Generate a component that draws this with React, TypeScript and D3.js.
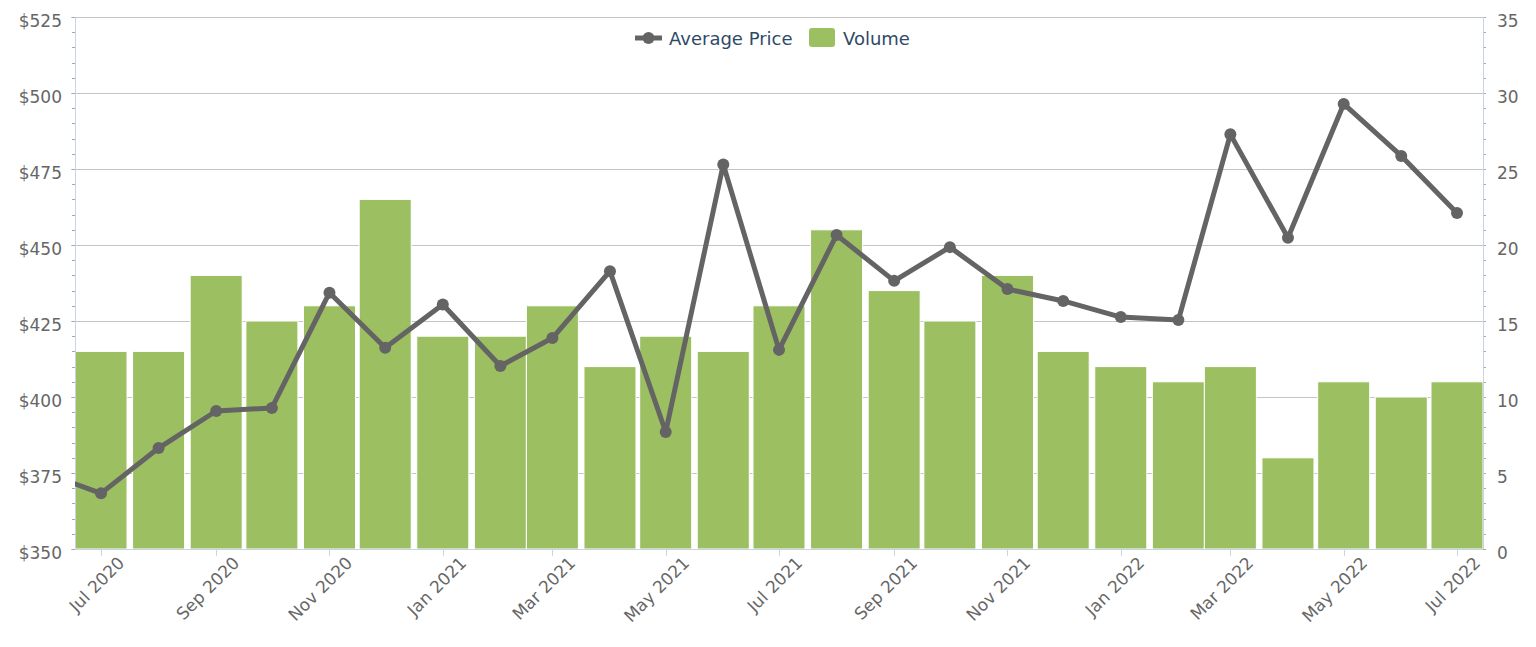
import React from "react";
import * as d3 from "d3";

// ---- data ----
const priceMonths = [
  "2020-06", "2020-07", "2020-08", "2020-09", "2020-10", "2020-11", "2020-12",
  "2021-01", "2021-02", "2021-03", "2021-04", "2021-05", "2021-06", "2021-07",
  "2021-08", "2021-09", "2021-10", "2021-11", "2021-12", "2022-01", "2022-02",
  "2022-03", "2022-04", "2022-05", "2022-06", "2022-07",
];
const priceValues = [
  375, 368.3, 383.2, 395.4, 396.4, 434.3, 416.2, 430.4, 410.2, 419.4, 441.4,
  388.5, 476.5, 415.5, 453.3, 438.2, 449.3, 435.5, 431.6, 426.3, 425.3, 486.4,
  452.4, 496.4, 479.3, 460.5,
];
const volumeMonths = priceMonths.slice(1);
const volumeValues = [
  13, 13, 18, 15, 16, 23, 14, 14, 16, 12, 14, 13, 16, 21, 17, 15, 18, 13, 12,
  11, 12, 6, 11, 10, 11,
];
const leftTicks = [350, 375, 400, 425, 450, 475, 500, 525];
const rightTicks = [0, 5, 10, 15, 20, 25, 30, 35];
const seriesNames = ["Average Price", "Volume"];

const W = 1536;
const H = 647;
const M = { left: 75, right: 1483, top: 17, bottom: 549 };
const FONT = "'DejaVu Sans', Verdana, sans-serif";
const LABEL = "#666666";
const GRID = "#c4c4c4";
const AXIS = "#c6d4e3";
const BAR = "#9cbf62";
const LINE = "#646464";

const parse = d3.utcParse("%Y-%m");

export default function App() {
  React.useEffect(() => {
    document.body.style.margin = "0";
  }, []);

  const x = d3
    .scaleUtc()
    .domain([new Date(Date.UTC(2020, 5, 17)), new Date(Date.UTC(2022, 6, 15))])
    .range([M.left, M.right]);
  const yL = d3.scaleLinear().domain([350, 525]).range([M.bottom, M.top]);
  const yR = d3.scaleLinear().domain([0, 35]).range([M.bottom, M.top]);

  const t0 = parse("2021-02")!;
  const t1 = parse("2021-03")!;
  const barW = x(t1) - x(t0);

  const line = d3
    .line<number>()
    .x((_, i) => x(parse(priceMonths[i])!))
    .y((d) => yL(d));

  const xTicks = d3.utcMonth
    .every(2)!
    .range(parse("2020-07")!, new Date(Date.UTC(2022, 6, 2)));
  const fmt = d3.utcFormat("%b %Y");

  const minorL = d3.range(350, 526, 5);
  const minorR = d3.range(0, 36, 1);
  const r5 = (v: number) => Math.round(v) + 0.5;

  return (
    <svg
      width={W}
      height={H}
      style={{ position: "absolute", left: 0, top: 0, display: "block" }}
      fontFamily={FONT}
    >
      <defs>
        <clipPath id="plot">
          <rect x={M.left} y={M.top - 10} width={M.right - M.left} height={M.bottom - M.top + 10} />
        </clipPath>
      </defs>
      <rect width={W} height={H} fill="#fff" />
      {/* gridlines */}
      {leftTicks.map((t) => (
        <line key={t} x1={M.left - 4} x2={M.right} y1={r5(yL(t))} y2={r5(yL(t))} stroke={GRID} strokeWidth={1} />
      ))}
      {/* minor ticks */}
      {minorL.map((t) => (
        <line key={"ml" + t} x1={M.left - 3} x2={M.left} y1={r5(yL(t))} y2={r5(yL(t))} stroke="#a8a8a8" strokeWidth={1} />
      ))}
      {minorR.map((t) => (
        <line key={"mr" + t} x1={M.right} x2={M.right + 3} y1={r5(yR(t))} y2={r5(yR(t))} stroke="#a8a8a8" strokeWidth={1} />
      ))}
      {/* bars */}
      <g clipPath="url(#plot)">
        {volumeValues.map((v, i) => {
          const cx = x(parse(volumeMonths[i])!);
          return (
            <rect
              key={i}
              x={cx - barW / 2}
              y={yR(v)}
              width={barW}
              height={yR(0) - yR(v)}
              fill={BAR}
              stroke="#fff"
              strokeWidth={1}
            />
          );
        })}
      </g>
      {/* axes lines */}
      <line x1={r5(M.left)} x2={r5(M.left)} y1={M.top} y2={M.bottom} stroke={AXIS} strokeWidth={1} />
      <line x1={r5(M.right)} x2={r5(M.right)} y1={M.top} y2={M.bottom} stroke={AXIS} strokeWidth={1} />
      <line x1={M.left} x2={M.right} y1={r5(M.bottom)} y2={r5(M.bottom)} stroke={AXIS} strokeWidth={1} />
      {/* price line */}
      <g clipPath="url(#plot)">
        <path d={line(priceValues) || ""} fill="none" stroke={LINE} strokeWidth={5} strokeLinejoin="round" />
        {priceValues.map((v, i) => (
          <circle key={i} cx={x(parse(priceMonths[i])!)} cy={yL(v)} r={6} fill={LINE} />
        ))}
      </g>
      {/* left labels */}
      {leftTicks.map((t) => (
        <text key={"l" + t} x={62} y={yL(t) + 9.5} textAnchor="end" fontSize={17} fill={LABEL}>
          {"$" + t}
        </text>
      ))}
      {/* right labels */}
      {rightTicks.map((t) => (
        <text key={"r" + t} x={1497} y={yR(t) + 9.5} textAnchor="start" fontSize={17} fill={LABEL}>
          {t}
        </text>
      ))}
      {/* x ticks */}
      {xTicks.map((d) => {
        const px = r5(x(d));
        return (
          <g key={+d}>
            <line x1={px} x2={px} y1={M.bottom} y2={M.bottom + 7} stroke={AXIS} strokeWidth={1} />
            <text
              transform={`translate(${px + 24},${M.bottom + 15}) rotate(-45)`}
              textAnchor="end"
              fontSize={17}
              fill={LABEL}
            >
              {fmt(d)}
            </text>
          </g>
        );
      })}
      {/* legend */}
      <g>
        <line x1={635} x2={662} y1={38} y2={38} stroke={LINE} strokeWidth={5} />
        <circle cx={648.5} cy={38} r={6} fill={LINE} />
        <text x={669} y={45} fontSize={18} fill="#2f4a66">
          {seriesNames[0]}
        </text>
        <rect x={809} y={28} width={26} height={19} rx={3} fill={BAR} />
        <text x={843} y={45} fontSize={18} fill="#2f4a66">
          {seriesNames[1]}
        </text>
      </g>
    </svg>
  );
}
